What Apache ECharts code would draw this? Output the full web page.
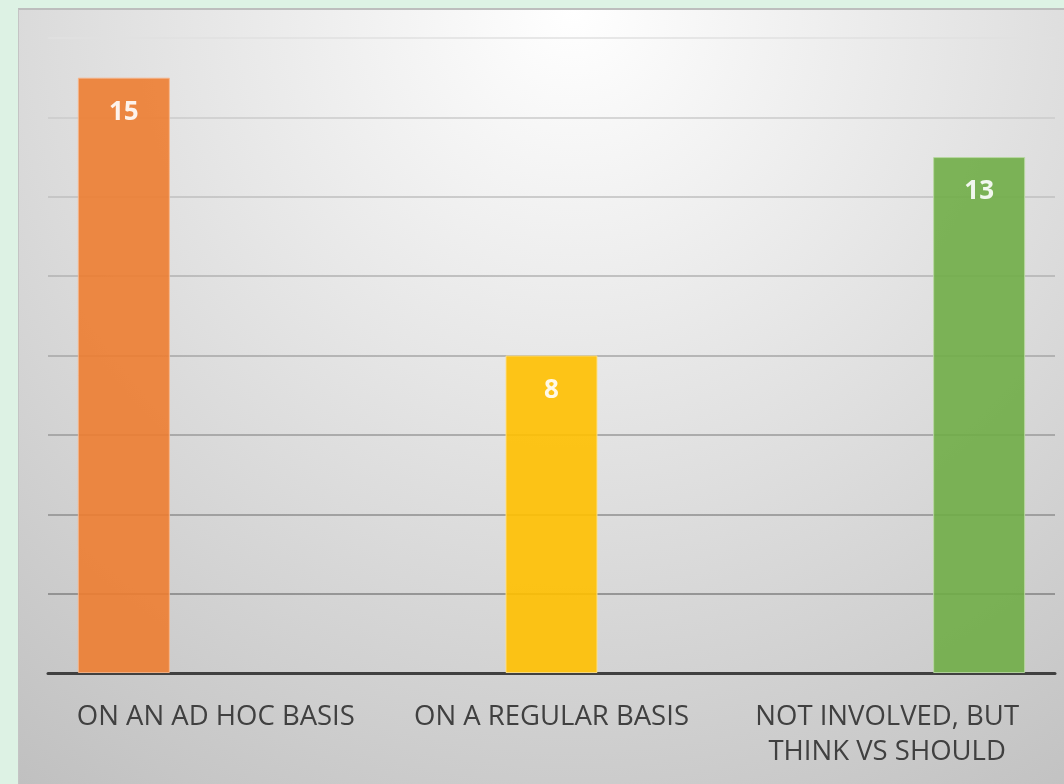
<!DOCTYPE html>
<html>
<head>
<meta charset="utf-8">
<script src="https://cdn.jsdelivr.net/npm/echarts@6/dist/echarts.min.js"></script>
<style>
  html, body { margin: 0; padding: 0; background: #ddf2e4; width: 1064px; height: 784px; overflow: hidden; }
  #chart {
    position: absolute; left: 18px; top: 8px;
    width: 1045px; height: 774px;
    border-top: 2px solid #bdbdbd; border-left: 1px solid #c4c4c4;
    background: radial-gradient(circle farthest-corner at 53% 0%, #ffffff 0%, #e9e9e9 35%, #c0c0c0 100%);
  }
</style>
</head>
<body>
<div id="chart"></div>
<script>
const categories = ['ON AN AD HOC BASIS', 'ON A REGULAR BASIS', 'NOT INVOLVED, BUT\nTHINK VS SHOULD']
const adHoc = [15, null, null]
const regular = [null, 8, null]
const notInvolved = [null, null, 13]

// 网格线从下往上渐浅
const gridColors = ['#808080', '#808080', '#8e8e8e', '#9a9a9a', '#a6a6a6', '#b2b2b2', '#bfbfbf', '#cbcbcb', '#e0e0e0']

const barLabel = {
  show: true,
  position: 'insideTop',
  distance: 22,
  color: '#ffffff',
  fontFamily: 'Open Sans',
  fontWeight: 'bold',
  fontSize: 26
}
const makeSeries = (name, data, color, border) => ({
  name: name,
  type: 'bar',
  data: data,
  barGap: '0%',
  barCategoryGap: '17.8%',
  itemStyle: { color: color, opacity: 0.9, borderColor: border, borderWidth: 1 },
  label: barLabel
})

const myChart = echarts.init(document.getElementById('chart'))
myChart.setOption({
  animation: false,
  grid: { left: 29, right: 9, top: 28, bottom: 111 },
  xAxis: {
    type: 'category',
    data: categories,
    axisLine: { lineStyle: { color: '#404040', width: 3 } },
    axisTick: { show: false },
    axisLabel: {
      interval: 0,
      margin: 27,
      color: '#404040',
      fontFamily: 'Open Sans',
      fontSize: 27.5,
      lineHeight: 35
    }
  },
  yAxis: {
    type: 'value',
    min: 0,
    max: 16,
    interval: 2,
    axisLabel: { show: false },
    axisLine: { show: false },
    axisTick: { show: false },
    splitLine: { lineStyle: { color: gridColors, width: 1.5 } }
  },
  series: [
    makeSeries('On an ad hoc basis', adHoc, '#ED7D31', '#f7b58a'),
    makeSeries('On a regular basis', regular, '#FFC000', '#fde08a'),
    makeSeries('Not involved', notInvolved, '#70AD47', '#b8d9a2')
  ]
})
</script>
</body>
</html>
